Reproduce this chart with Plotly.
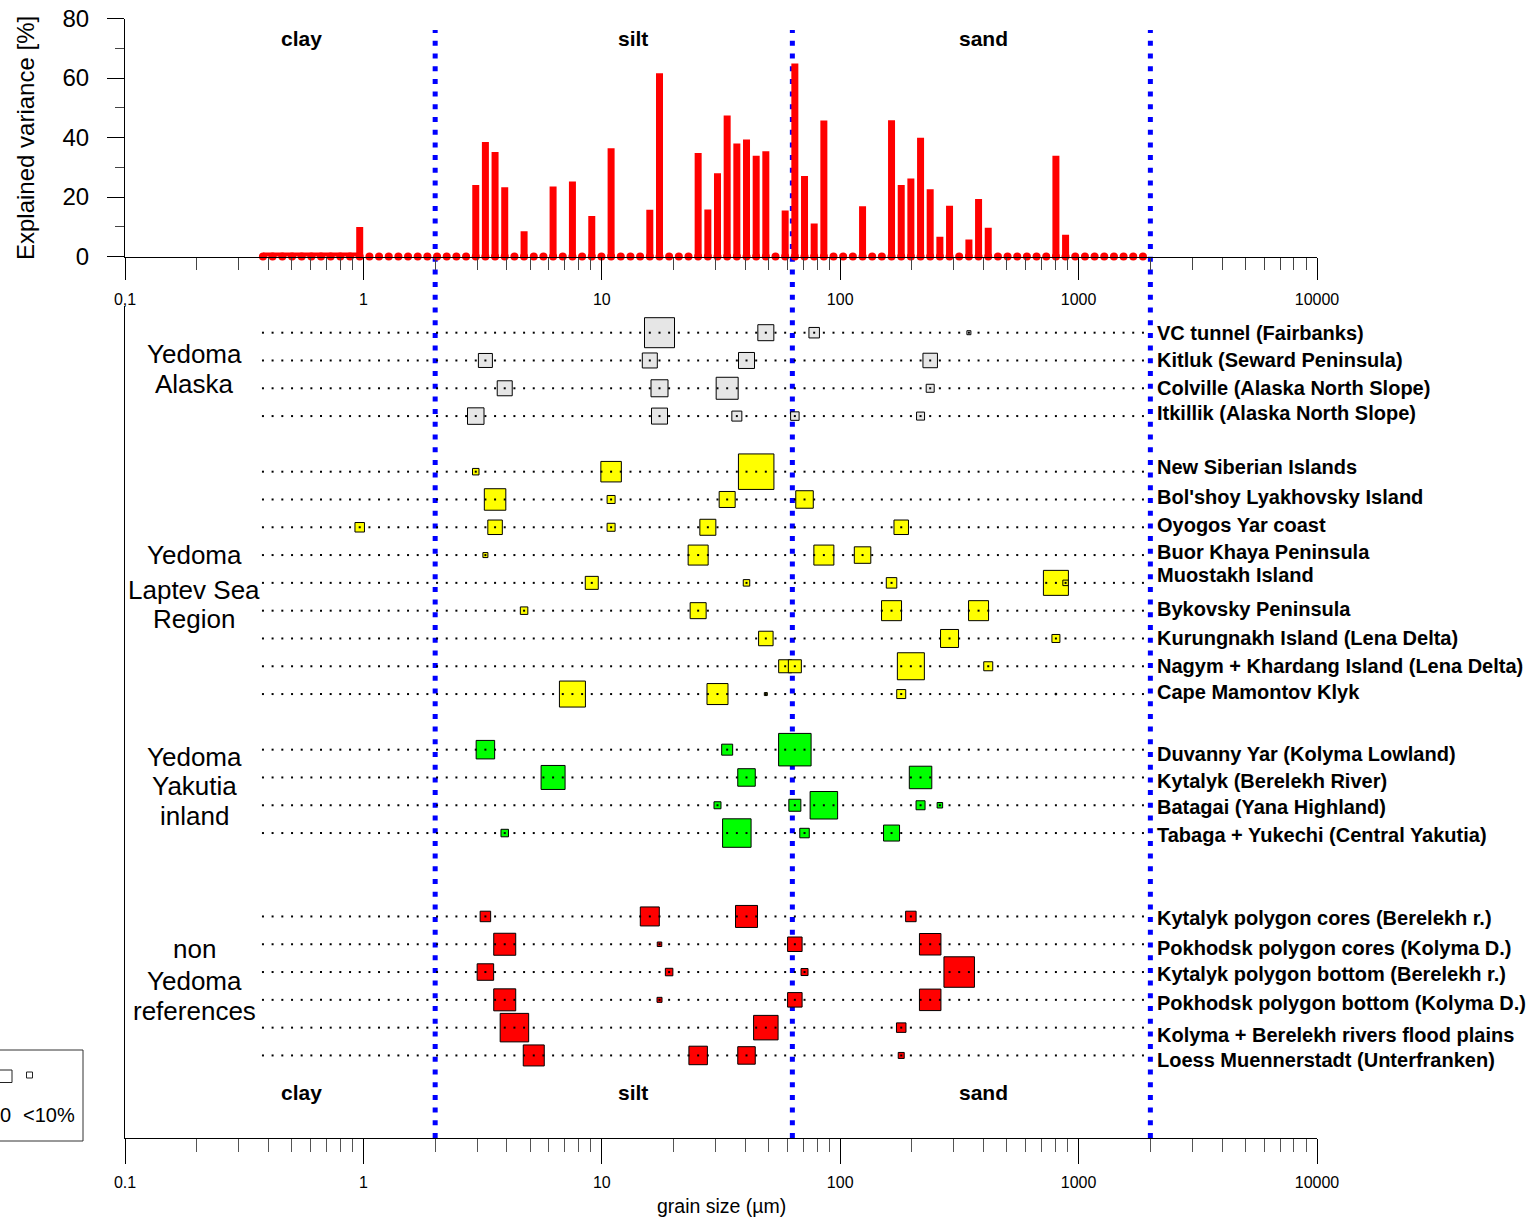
import plotly.graph_objects as go

W, H = 1537, 1225

# ---------------- data ----------------
# grain-size classes of the laser particle analyser (class centres, µm)
CLASS_UM = [0.379, 0.416, 0.457, 0.502, 0.551, 0.605, 0.664, 0.729, 0.800, 0.879,
            0.965, 1.060, 1.163, 1.277, 1.402, 1.539, 1.690, 1.855, 2.037, 2.236,
            2.455, 2.696, 2.960, 3.249, 3.567, 3.916, 4.300, 4.721, 5.183, 5.690,
            6.247, 6.859, 7.530, 8.267, 9.077, 9.965, 10.94, 12.01, 13.19, 14.48,
            15.90, 17.46, 19.16, 21.04, 23.10, 25.36, 27.85, 30.57, 33.56, 36.85,
            40.46, 44.42, 48.76, 53.54, 58.77, 64.53, 70.85, 77.78, 85.40, 93.74,
            102.9, 113.0, 124.1, 136.2, 149.5, 164.2, 180.3, 197.9, 217.3, 238.5,
            261.9, 287.5, 315.6, 346.6, 380.5, 417.8, 458.7, 503.5, 552.8, 606.9,
            666.3, 731.6, 803.2, 881.8, 968.1, 1063, 1167, 1281, 1407, 1544,
            1695, 1862]

# explained variance per class (index into CLASS_UM), all other classes = 0
BAR_CLASS = [10, 22, 23, 24, 25, 27, 30, 32, 34, 36, 40, 41, 45, 46, 47, 48, 49, 50, 51,
             52, 54, 55, 56, 57, 58, 62, 65, 66, 67, 68, 69, 70, 71, 73, 74, 75, 82, 83]
BAR_VALUE = [9.9, 24.0, 38.5, 35.1, 23.3, 8.5, 23.5, 25.2, 13.6, 36.4, 15.7, 61.6, 34.8,
             15.8, 28.0, 47.4, 38.0, 39.3, 33.9, 35.4, 15.5, 64.9, 27.1, 11.1, 45.7, 16.9,
             45.8, 24.0, 26.2, 39.9, 22.6, 6.6, 17.1, 5.7, 19.3, 9.7, 33.9, 7.3]

SEP_UM = [2, 63, 2000]          # clay / silt / sand / gravel limits
FRACTIONS = ["clay", "silt", "sand"]

GROUP_NAMES = [["Yedoma", "Alaska"],
               ["Yedoma", "Laptev Sea", "Region"],
               ["Yedoma", "Yakutia", "inland"],
               ["non", "Yedoma", "references"]]
GROUP_COLORS = ["#e6e6e6", "#ffff00", "#00ff00", "#ff0000"]

ROW_LABELS = ["VC tunnel (Fairbanks)", "Kitluk (Seward Peninsula)",
              "Colville (Alaska North Slope)", "Itkillik (Alaska North Slope)",
              "New Siberian Islands", "Bol'shoy Lyakhovsky Island", "Oyogos Yar coast",
              "Buor Khaya Peninsula", "Muostakh Island", "Bykovsky Peninsula",
              "Kurungnakh Island (Lena Delta)", "Nagym + Khardang Island (Lena Delta)",
              "Cape Mamontov Klyk",
              "Duvanny Yar (Kolyma Lowland)", "Kytalyk (Berelekh River)",
              "Batagai (Yana Highland)", "Tabaga + Yukechi (Central Yakutia)",
              "Kytalyk polygon cores (Berelekh r.)", "Pokhodsk polygon cores (Kolyma D.)",
              "Kytalyk polygon bottom (Berelekh r.)", "Pokhodsk polygon bottom (Kolyma D.)",
              "Kolyma + Berelekh rivers flood plains", "Loess Muennerstadt (Unterfranken)"]
ROW_GROUP = [0, 0, 0, 0,
             1, 1, 1, 1, 1, 1, 1, 1, 1,
             2, 2, 2, 2,
             3, 3, 3, 3, 3, 3]
ROW_SLOT = [0, 1, 2, 3,
            5, 6, 7, 8, 9, 10, 11, 12, 13,
            15, 16, 17, 18,
            21, 22, 23, 24, 25, 26]

# significant classes per site (index into CLASS_UM) and their weight (%)
SQ_CLASS = [[41, 52, 57, 73], [23, 40, 50, 69], [25, 41, 48, 69], [22, 41, 49, 55, 68],
            [22, 36, 51], [24, 36, 48, 56], [10, 24, 36, 46, 66], [23, 45, 58, 62],
            [34, 50, 65, 82, 83], [27, 45, 65, 74], [52, 71, 82], [54, 55, 67, 75],
            [32, 47, 52, 66, 82],
            [23, 48, 55], [30, 50, 68], [47, 55, 58, 68, 70], [25, 49, 56, 65],
            [23, 40, 50, 67], [25, 41, 55, 69], [23, 42, 56, 72], [25, 41, 55, 69],
            [26, 52, 66], [28, 45, 50, 66]]
SQ_VALUE = [[60, 32, 21, 8], [28, 30, 32, 29], [30, 34, 44, 16], [33, 32, 20, 17, 16],
            [13, 41, 71], [43, 16, 32, 35], [19, 29, 16, 32, 29], [10, 40, 40, 33],
            [26, 13, 21, 50, 11], [15, 32, 40, 40], [29, 36, 16], [26, 26, 54, 18],
            [52, 42, 6, 18, 3],
            [37, 22, 65], [48, 35, 45], [14, 24, 55, 18, 11], [15, 57, 19, 32],
            [21, 38, 44, 21], [44, 9, 29, 43], [33, 15, 14, 61], [44, 10, 29, 43],
            [57, 49, 19], [42, 37, 35, 12]]

# label fine offsets (px) as in the original layout
ROW_LABEL_SHIFT = [0, 0, 0, -3, -5, -2, -2, -3, -8, -2, 0, 0, -2,
                   4, 4, 2, 2, 2, 4, 2, 3, 7, 5]

X_TICKS = [0.1, 1, 10, 100, 1000, 10000]
X_TICKTEXT_TOP = ["0,1", "1", "10", "100", "1000", "10000"]
X_TICKTEXT_BOTTOM = ["0.1", "1", "10", "100", "1000", "10000"]
X_MINOR = [m * 10 ** e for e in range(-1, 4) for m in range(2, 10)]
Y_TICKS = [0, 20, 40, 60, 80]
Y_MINOR = [10, 30, 50, 70]

# ---------------- styling helpers ----------------
FONT = "Arial, 'Liberation Sans', sans-serif"
SIZE_PER_PCT = 0.5   # square side (px) per % weight


def px(x):
    return x / W


def py(y):
    return 1 - y / H


fig = go.Figure()

# ---- top panel: explained variance ----
fig.add_trace(go.Scatter(
    x=CLASS_UM, y=[0] * len(CLASS_UM), mode="markers",
    marker=dict(color="#ff0000", size=8, opacity=1, line=dict(width=0)),
    xaxis="x", yaxis="y", cliponaxis=False, hoverinfo="skip"))
band = [c for c in CLASS_UM if c < 1.0]
fig.add_trace(go.Scatter(
    x=band, y=[0] * len(band), mode="lines",
    line=dict(color="#ff0000", width=8),
    xaxis="x", yaxis="y", cliponaxis=False, hoverinfo="skip"))
bx, by = [], []
for c, v in zip(BAR_CLASS, BAR_VALUE):
    bx += [CLASS_UM[c], CLASS_UM[c], None]
    by += [0, v, None]
fig.add_trace(go.Scatter(
    x=bx, y=by, mode="lines", line=dict(color="#ff0000", width=7),
    xaxis="x", yaxis="y", cliponaxis=False, hoverinfo="skip"))

# ---- bottom panel: squares ----
for g in range(len(GROUP_NAMES)):
    xs, ys, ss = [], [], []
    for r in range(len(ROW_LABELS)):
        if ROW_GROUP[r] != g:
            continue
        for c, v in zip(SQ_CLASS[r], SQ_VALUE[r]):
            xs.append(CLASS_UM[c])
            ys.append(ROW_SLOT[r])
            ss.append(v * SIZE_PER_PCT)
    fig.add_trace(go.Scatter(
        x=xs, y=ys, mode="markers",
        marker=dict(symbol="square", size=ss, color=GROUP_COLORS[g], opacity=1,
                    line=dict(color="black", width=1)),
        xaxis="x2", yaxis="y2", hoverinfo="skip"))

# dotted row guides (one dot per grain-size class)
dx, dy = [], []
for s in ROW_SLOT:
    dx += CLASS_UM
    dy += [s] * len(CLASS_UM)
fig.add_trace(go.Scatter(
    x=dx, y=dy, mode="markers",
    marker=dict(symbol="square", size=2, color="black", opacity=1, line=dict(width=0)),
    xaxis="x2", yaxis="y2", hoverinfo="skip"))

# ---- fraction limits ----
shapes = []
for d in SEP_UM:
    shapes.append(dict(type="line", xref="x", yref="paper", x0=d, x1=d,
                       y0=py(1138), y1=py(30), layer="below",
                       line=dict(color="#0000ff", width=5, dash="5px,7.7px")))

# legend box (partially outside the picture)
shapes.append(dict(type="rect", xref="paper", yref="paper",
                   x0=px(-5), x1=px(83), y0=py(1141), y1=py(1050),
                   line=dict(color="#333333", width=1), fillcolor="rgba(0,0,0,0)"))
shapes.append(dict(type="rect", xref="paper", yref="paper",
                   x0=px(-0.5), x1=px(12), y0=py(1082.5), y1=py(1070),
                   line=dict(color="#222222", width=1), fillcolor="white"))
shapes.append(dict(type="rect", xref="paper", yref="paper",
                   x0=px(26.5), x1=px(32.5), y0=py(1078), y1=py(1072),
                   line=dict(color="#222222", width=1), fillcolor="white"))

ann = []
# fraction names
for name, xc in zip(FRACTIONS, [301, 633, 983]):
    for yc in [38, 1092]:
        ann.append(dict(text="<b>%s</b>" % name, xref="paper", yref="paper",
                        x=px(xc), y=py(yc), xanchor="center", yanchor="middle",
                        showarrow=False, font=dict(size=21, color="black")))

# group names
group_lines_y = [[354, 384], [555, 590, 619], [757, 786, 816], [949, 981, 1011]]
for lines, ys in zip(GROUP_NAMES, group_lines_y):
    for t, yc in zip(lines, ys):
        ann.append(dict(text=t, xref="paper", yref="paper", x=px(194), y=py(yc),
                        xanchor="center", yanchor="middle", showarrow=False,
                        font=dict(size=26, color="black")))

# site names
for lab, s, sh in zip(ROW_LABELS, ROW_SLOT, ROW_LABEL_SHIFT):
    ann.append(dict(text="<b>%s</b>" % lab, xref="paper", yref="y2", x=px(1155), y=s,
                    xanchor="left", yanchor="middle", yshift=-sh, showarrow=False,
                    font=dict(size=20, color="black")))

# axis titles
ann.append(dict(text="Explained variance [%]", xref="paper", yref="paper",
                x=px(25), y=py(138), textangle=-90, xanchor="center", yanchor="middle",
                showarrow=False, font=dict(size=24, color="black")))
ann.append(dict(text="grain size (µm)", xref="paper", yref="paper",
                x=px(721), y=py(1206), xanchor="center", yanchor="middle",
                showarrow=False, font=dict(size=19.5, color="black")))

# legend texts (left part of the legend lies outside the picture)
ann.append(dict(text="0", xref="paper", yref="paper", x=px(-2), y=py(1115),
                xanchor="left", yanchor="middle", showarrow=False,
                font=dict(size=20, color="black")))
ann.append(dict(text="&lt;10%", xref="paper", yref="paper", x=px(21), y=py(1115),
                xanchor="left", yanchor="middle", showarrow=False,
                font=dict(size=20, color="black")))

common_x = dict(type="log", range=[-1, 4], domain=[px(125), px(1317)],
                showline=True, linecolor="black", linewidth=1,
                ticks="outside", tickcolor="black", tickwidth=1,
                tickvals=X_TICKS, tickfont=dict(size=16, color="black"),
                showgrid=False, zeroline=False, automargin=False)

fig.update_layout(
    template="none",
    width=W, height=H,
    margin=dict(l=0, r=0, t=0, b=0, pad=0, autoexpand=False),
    paper_bgcolor="white", plot_bgcolor="rgba(0,0,0,0)",
    showlegend=False, font=dict(family=FONT, color="black"),
    xaxis=dict(common_x, anchor="y", ticktext=X_TICKTEXT_TOP, ticklen=22,
               ticklabelstandoff=6,
               minor=dict(ticks="outside", ticklen=12, tickcolor="#444444",
                          tickvals=X_MINOR, showgrid=False)),
    yaxis=dict(range=[0, 80], domain=[py(256.5), py(18.5)], anchor="x",
               showline=True, linecolor="black", linewidth=1,
               ticks="outside", ticklen=17, tickcolor="black",
               tickvals=Y_TICKS, tickfont=dict(size=24, color="black"),
               ticklabelstandoff=13, automargin=False,
               minor=dict(ticks="outside", ticklen=9, tickcolor="#444444",
                          tickvals=Y_MINOR, showgrid=False),
               showgrid=False, zeroline=False),
    xaxis2=dict(common_x, anchor="y2", ticktext=X_TICKTEXT_BOTTOM, ticklen=25,
                ticklabelstandoff=5,
                minor=dict(ticks="outside", ticklen=13, tickcolor="#555555",
                           tickvals=X_MINOR, showgrid=False)),
    yaxis2=dict(range=[28.97, -0.96], domain=[py(1138), py(306)], anchor="x2",
                showline=True, linecolor="black", linewidth=1, automargin=False,
                showticklabels=False, ticks="", showgrid=False, zeroline=False),
    shapes=shapes, annotations=ann,
)

fig.write_html(
    "out.html",
    post_script="document.documentElement.style.margin='0';"
                "document.body.style.margin='0';"
                "document.body.style.padding='0';"
                "document.body.style.overflow='hidden';",
)
